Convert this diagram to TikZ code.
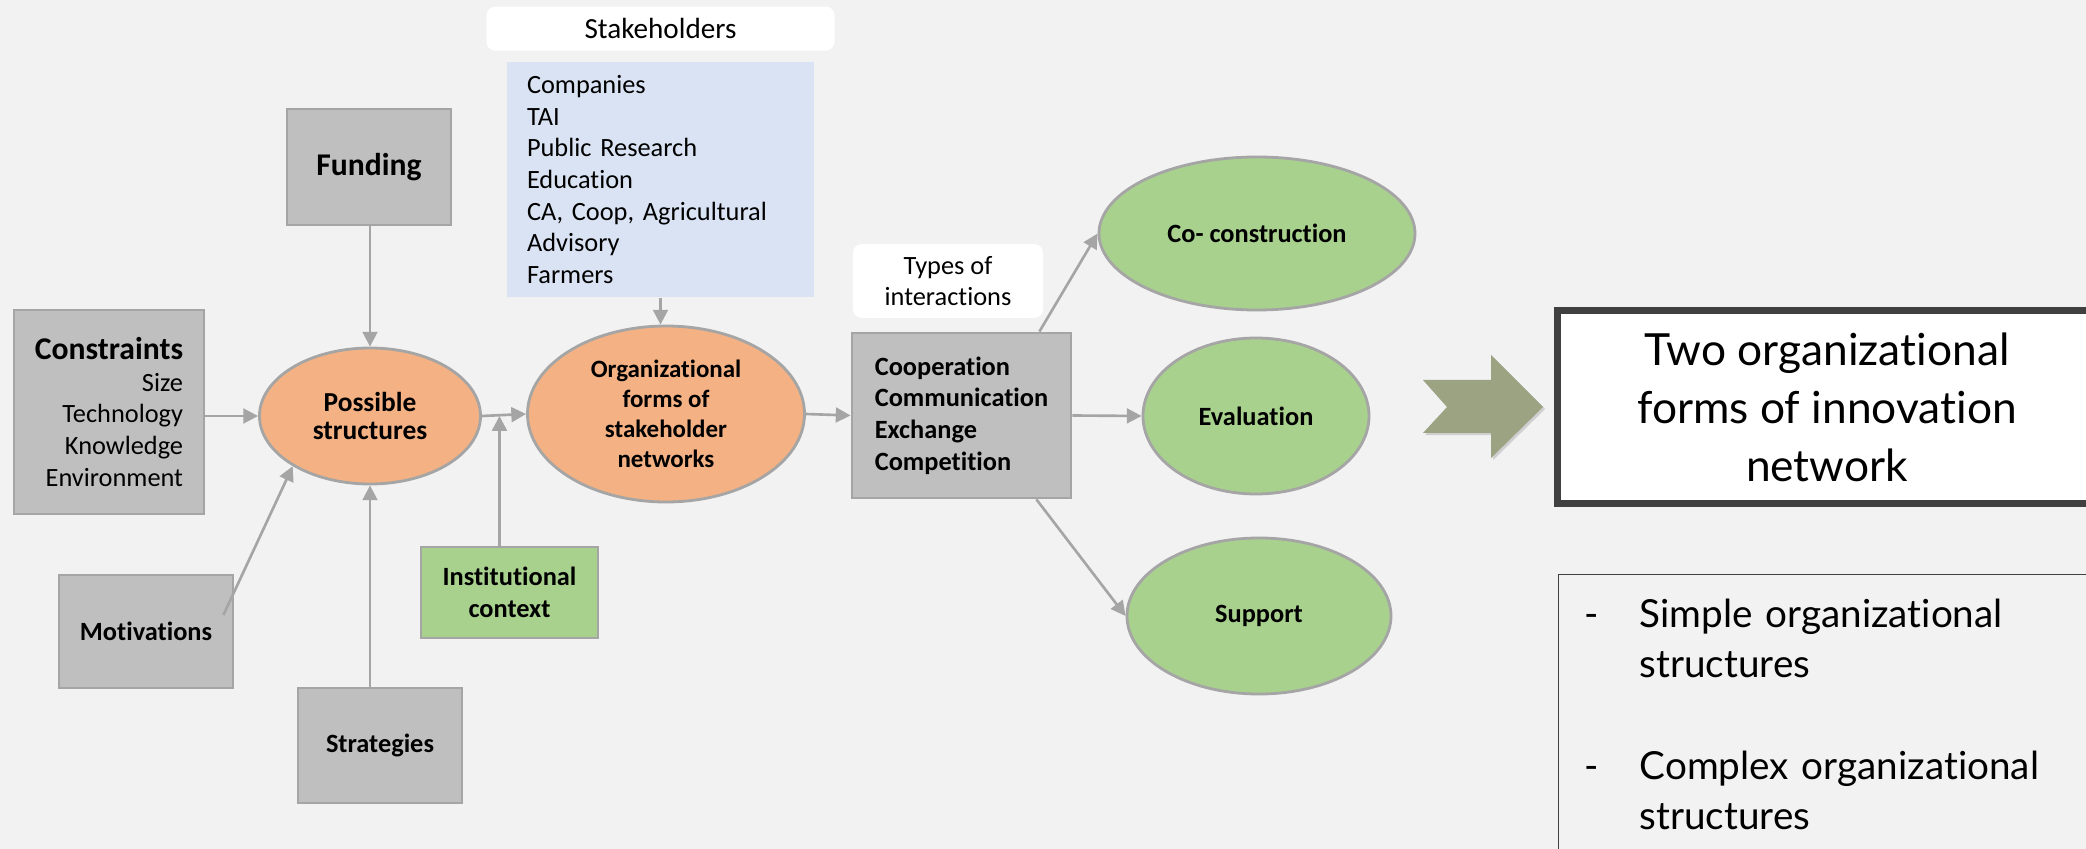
\documentclass[tikz,border=0pt]{standalone}
\usepackage{fontspec}
\setmainfont{Carlito}[Ligatures=NoCommon]
\newfontfamily\gillfont{Lato}[Ligatures=NoCommon]
\usepackage{xcolor}
\usetikzlibrary{calc,positioning,shapes.geometric,arrows.meta,shadows}

\definecolor{bgGray}{HTML}{F2F2F2}
\definecolor{boxGray}{HTML}{BFBFBF}
\definecolor{lineGray}{HTML}{A5A5A5}
\definecolor{peach}{HTML}{F4B183}
\definecolor{leafGreen}{HTML}{A9D18E}
\definecolor{paleBlue}{HTML}{DAE3F3}
\definecolor{oliveArrow}{HTML}{9CA383}
\definecolor{darkFrame}{HTML}{404040}

\begin{document}
\begin{tikzpicture}[node distance=1mm]
  % requires: \usetikzlibrary{calc,positioning,shapes.geometric,arrows.meta,shadows}
  \tikzset{
    netGrayBox/.style={draw=lineGray, line width=0.8pt, fill=boxGray, inner sep=0pt, align=center, font=\bfseries\fontsize{7.5}{9}\selectfont},
    netGreenBox/.style={netGrayBox, fill=leafGreen},
    netEllipse/.style={ellipse, draw=lineGray, line width=0.8pt, inner sep=0pt, align=center, font=\bfseries\fontsize{7.5}{9}\selectfont},
    netLabel/.style={fill=white, rounded corners=2.5pt, inner sep=0pt, align=center, font=\fontsize{7.5}{9}\selectfont},
    netArrow/.style={draw=lineGray, line width=0.75pt, -{Triangle[length=4.2pt,width=4.2pt]}}
  }

  % --- canvas ---
  \fill[bgGray] (0,0) rectangle (20.86,-8.49);
  \useasboundingbox (0,0) rectangle (20.86,-8.49);

  % --- factors on the left ---
  \node[netGrayBox, minimum width=1.90cm, minimum height=2.04cm, align=right, font=\fontsize{7.5}{9}\selectfont] (constr) at (1.09,-4.12)
    {{\bfseries\fontsize{9}{9}\selectfont Constraints}\\ Size\\ Technology\\ Knowledge\\ Environment};
  \node[netGrayBox, minimum width=1.64cm, minimum height=1.16cm, font=\bfseries\fontsize{9}{11}\selectfont] (fund) at (3.69,-1.67) {Funding};
  \node[netGrayBox, minimum width=1.74cm, minimum height=1.13cm] (motiv) at (1.46,-6.315) {Motivations};
  \node[netGrayBox, minimum width=1.64cm, minimum height=1.15cm] (strat) at (3.80,-7.455) {Strategies};
  \node[netGreenBox, minimum width=1.77cm, minimum height=0.91cm] (inst) at (5.095,-5.925) {Institutional\\ context};

  \node[netEllipse, fill=peach, minimum width=2.21cm, minimum height=1.36cm, font=\bfseries\fontsize{7.8}{8}\selectfont] (poss) at (3.70,-4.16) {Possible\\ structures};

  % --- stakeholders ---
  \node[fill=paleBlue, inner sep=0pt, minimum width=3.07cm, minimum height=2.35cm, text width=2.67cm, align=left, font=\fontsize{7.5}{9}\selectfont] (stakeList) at (6.605,-1.795)
    {Companies\\ TAI\\ Public Research\\ Education\\ CA, Coop, Agricultural\\ Advisory\\ Farmers};
  \node[netLabel, minimum width=3.48cm, minimum height=0.44cm, font=\fontsize{8.3}{10}\selectfont] (stakeTitle) [above=of stakeList] {Stakeholders};

  \node[netEllipse, fill=peach, minimum width=2.77cm, minimum height=1.76cm, font=\bfseries\fontsize{7.1}{8.5}\selectfont] (org) at (6.66,-4.14)
    {Organizational\\ forms of\\ stakeholder\\ networks};

  % --- interactions ---
  \node[netGrayBox, align=left, minimum width=2.19cm, minimum height=1.65cm] (coop) at (9.615,-4.155)
    {Cooperation\\ Communication\\ Exchange\\ Competition};
  \node[netLabel, minimum width=1.90cm, minimum height=0.74cm] (types) at (9.48,-2.81) {Types of\\ interactions};

  \node[netEllipse, fill=leafGreen, minimum width=3.16cm, minimum height=1.53cm] (cocon) at (12.57,-2.335) {Co- construction};
  \node[netEllipse, fill=leafGreen, minimum width=2.26cm, minimum height=1.56cm] (eval) at (12.56,-4.16) {Evaluation};
  \node[netEllipse, fill=leafGreen, minimum width=2.64cm, minimum height=1.56cm] (supp) at (12.59,-6.16) {Support};

  % --- connectors ---
  \draw[netArrow] (constr.east |- poss.west) -- (poss.west);
  \draw[netArrow] (fund.south -| poss.north) -- (poss.north);
  \draw[netArrow] (strat.north -| poss.south) -- (poss.south);
  \draw[netArrow] ($(motiv.east)+(-0.11,0.165)$) -- (poss.213);
  \draw[netArrow] (poss.east) -- (org.west);
  \draw[netArrow] ([xshift=-1mm]inst.north) -- ([xshift=-1mm]inst.north |- poss.east);
  \draw[netArrow] (stakeList.south) -- (stakeList.south |- org.north);
  \draw[netArrow] (org.east) -- (coop.west);
  \draw[netArrow] ($(coop.north east)+(-0.33,0)$) -- (cocon.west);
  \draw[netArrow] (coop.east) -- (eval.west);
  \draw[netArrow] ($(coop.south east)+(-0.36,0)$) -- (supp.west);

  % --- result ---
  \fill[oliveArrow, drop shadow={opacity=0.3, shadow xshift=0.6pt, shadow yshift=-0.6pt}]
    (14.23,-3.80) -- (14.91,-3.80) -- (14.91,-3.55) -- (15.43,-4.07) -- (14.91,-4.58)
    -- (14.91,-4.33) -- (14.23,-4.33) -- (14.47,-4.07) -- cycle;

  \node[draw=darkFrame, line width=2pt, fill=white, minimum width=5.39cm, minimum height=1.93cm, align=center, font=\gillfont\fontsize{12.6}{16.5}\selectfont] (result) at (18.27,-4.07)
    {Two organizational\\ forms of innovation\\ network};

  \node[draw=darkFrame, line width=0.4pt, anchor=north west, inner xsep=0.26cm, inner ysep=0.24cm, text width=6cm, align=left, font=\gillfont\fontsize{11}{14.2}\selectfont] (forms) at (15.58,-5.74)
    {\makebox[0.55cm][l]{-}Simple organizational\\ \hspace*{0.55cm}structures\\[15pt]
     \makebox[0.55cm][l]{-}Complex organizational\\ \hspace*{0.55cm}structures};

\end{tikzpicture}
\end{document}
